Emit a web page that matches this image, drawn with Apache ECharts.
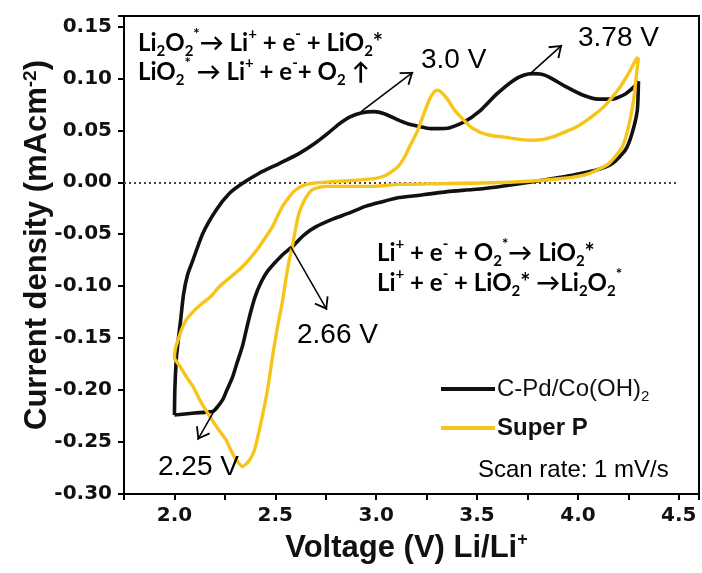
<!DOCTYPE html>
<html>
<head>
<meta charset="utf-8">
<script src="https://cdn.jsdelivr.net/npm/echarts@6/dist/echarts.min.js"></script>
<style>
  html, body { margin: 0; padding: 0; background: #fff; }
  #chart { width: 702px; height: 573px; }
</style>
</head>
<body>
<div id="chart"></div>
<script>
// C-Pd/Co(OH)2 CV loop (V vs Li/Li+, mA cm-2)
const pdVoltage = [2.00, 2.002, 2.01, 2.02, 2.03, 2.045, 2.065, 2.092, 2.141, 2.207, 2.273, 2.338, 2.42, 2.519, 2.617, 2.70, 2.76, 2.815, 2.87, 2.93, 2.99, 3.04, 3.108, 3.16, 3.206, 3.27, 3.353, 3.435, 3.516, 3.598, 3.68, 3.73, 3.778, 3.82, 3.86, 3.94, 4.023, 4.10, 4.17, 4.235, 4.284, 4.30,
  4.294, 4.268, 4.235, 4.17, 4.088, 4.00, 3.92, 3.76, 3.60, 3.48, 3.353, 3.19, 3.108, 3.025, 2.95, 2.86, 2.79, 2.70, 2.64, 2.584, 2.54, 2.50, 2.46, 2.43, 2.40, 2.375, 2.355, 2.338, 2.31, 2.289, 2.26, 2.24, 2.21, 2.19, 2.10, 2.00];
const pdCurrent = [-0.224, -0.20, -0.168, -0.150, -0.134, -0.108, -0.089, -0.0747, -0.049, -0.0266, -0.0106, -0.001, 0.0087, 0.018, 0.0276, 0.038, 0.047, 0.056, 0.063, 0.067, 0.068, 0.066, 0.060, 0.056, 0.054, 0.0516, 0.052, 0.058, 0.069, 0.085, 0.098, 0.103, 0.1045, 0.104, 0.101, 0.092, 0.084, 0.080, 0.080, 0.085, 0.093, 0.097,
  0.069, 0.047, 0.031, 0.018, 0.0115, 0.008, 0.005, 0.000, -0.0045, -0.007, -0.009, -0.013, -0.015, -0.019, -0.023, -0.030, -0.035, -0.043, -0.051, -0.062, -0.069, -0.077, -0.086, -0.096, -0.110, -0.127, -0.143, -0.157, -0.174, -0.187, -0.200, -0.209, -0.217, -0.2205, -0.222, -0.224];

// Super P CV loop
const spVoltage = [4.30, 4.285, 4.276, 4.25, 4.22, 4.153, 4.055, 3.92, 3.68, 3.353, 3.108, 2.99, 2.75, 2.716, 2.685, 2.666, 2.64, 2.617, 2.60, 2.584, 2.568, 2.555, 2.535, 2.51, 2.486, 2.461, 2.428, 2.396, 2.37, 2.338, 2.31, 2.28, 2.256, 2.215, 2.174, 2.13, 2.092, 2.055, 2.027, 2.00,
  2.005, 2.018, 2.035, 2.06, 2.10, 2.141, 2.18, 2.223, 2.28, 2.338, 2.38, 2.42, 2.455, 2.486, 2.51, 2.535, 2.565, 2.60, 2.64, 2.683, 2.78, 2.90, 2.99, 3.04, 3.075, 3.108, 3.14, 3.17, 3.206, 3.24, 3.27, 3.29, 3.304, 3.32, 3.353, 3.39, 3.435, 3.47, 3.516, 3.57, 3.63, 3.70, 3.76, 3.82, 3.876, 3.93, 3.99, 4.04, 4.088, 4.13, 4.17, 4.21, 4.25, 4.29, 4.30];
const spCurrent = [0.120, 0.095, 0.079, 0.053, 0.034, 0.018, 0.0084, 0.0036, 0.0003, -0.0013, -0.002, -0.004, -0.004, -0.005, -0.007, -0.0106, -0.019, -0.030, -0.045, -0.062, -0.076, -0.090, -0.115, -0.140, -0.168, -0.200, -0.232, -0.258, -0.268, -0.2735, -0.268, -0.258, -0.248, -0.237, -0.225, -0.211, -0.1965, -0.186, -0.177, -0.169,
  -0.160, -0.1516, -0.142, -0.132, -0.123, -0.116, -0.110, -0.1004, -0.091, -0.081, -0.072, -0.062, -0.052, -0.0427, -0.033, -0.0235, -0.015, -0.0074, -0.003, -0.001, 0.0005, 0.002, 0.0035, 0.006, 0.010, 0.015, 0.024, 0.036, 0.050, 0.068, 0.082, 0.0875, 0.0885, 0.087, 0.080, 0.069, 0.0596, 0.053, 0.048, 0.045, 0.0436, 0.0415, 0.0404, 0.041, 0.0436, 0.048, 0.053, 0.059, 0.066, 0.073, 0.082, 0.092, 0.1045, 0.119, 0.120];

// annotation arrows: [start, head] in data coords
const peakArrows = [
  [[2.925, 0.068], [3.183, 0.106]],
  [[3.765, 0.1048], [3.921, 0.132]],
  [[2.576, -0.0619], [2.756, -0.1228]],
  [[2.209, -0.2158], [2.115, -0.2478]]
];
const zeroLine = [[1.75, 0], [4.5, 0]];

const zip = (xs, ys) => xs.map((x, i) => [x, ys[i]]);

const chevron = 'path://M0,0 L0.01,0 L0,0.01 Z M0,12 L8,23 L6.6,24.2 L0,15 L-6.6,24.2 L-8,23 Z';

const tickFont = { fontFamily: 'DejaVu Sans', fontWeight: 'bold', fontSize: 20, color: '#111' };
const titleFont = { fontFamily: 'Liberation Sans', fontWeight: 'bold', fontSize: 31, color: '#111' };
const reactFont = 'Lato, DejaVu Sans';
const reactRich = {
  s: { fontSize: 15, fontWeight: 'bold', fontFamily: reactFont, verticalAlign: 'bottom', fill: '#000' },
  p: { fontSize: 15, fontWeight: 'bold', fontFamily: reactFont, verticalAlign: 'top', fill: '#000' }
};

function reaction(x, y, text) {
  return {
    type: 'text', x: x, y: y, z: 100,
    style: {
      text: text, fontFamily: reactFont, fontWeight: 'bold', fontSize: 24, lineHeight: 32,
      fill: '#000', verticalAlign: 'middle', rich: reactRich
    }
  };
}
function peakLabel(x, y, text) {
  return {
    type: 'text', x: x, y: y, z: 100,
    style: { text: text, fontFamily: 'Liberation Sans', fontSize: 28, fill: '#000', verticalAlign: 'middle' }
  };
}

const chart = echarts.init(document.getElementById('chart'));

chart.setOption({
  animation: false,
  grid: { left: 124, right: -1, top: 16, bottom: 79, show: true, borderColor: '#000', borderWidth: 2 },
  xAxis: {
    type: 'value', min: 1.75, max: 4.6, interval: 0.25,
    name: 'Voltage (V) Li/Li{sup|+}', nameLocation: 'middle', nameGap: 36,
    nameTextStyle: Object.assign({}, titleFont, {
      rich: { sup: { fontFamily: 'Liberation Sans', fontWeight: 'bold', fontSize: 18, verticalAlign: 'top', color: '#111' } },
      lineHeight: 36,
      padding: [0, 10, 0, 0]
    }),
    axisLine: { onZero: false, lineStyle: { color: '#000', width: 2 } },
    axisTick: { length: 6, lineStyle: { color: '#000', width: 2 } },
    splitLine: { show: false },
    axisLabel: Object.assign({}, tickFont, {
      margin: 12,
      formatter: v => {
        const r = Math.round(v * 2);
        return Math.abs(v * 2 - r) < 1e-6 ? (r / 2).toFixed(1) : '';
      }
    })
  },
  yAxis: {
    type: 'value', min: -0.30, max: 0.16, interval: 0.05,
    name: 'Current density (mAcm{sup|-2})', nameLocation: 'middle', nameRotate: 90, nameGap: 71,
    nameMoveOverlap: false,
    nameTextStyle: Object.assign({}, titleFont, {
      rich: { sup: { fontFamily: 'Liberation Sans', fontWeight: 'bold', fontSize: 19, verticalAlign: 'top', color: '#111' } },
      lineHeight: 32,
      padding: [0, 0, 0, 20]
    }),
    axisLine: { onZero: false, lineStyle: { color: '#000', width: 2 } },
    axisTick: { length: 6, lineStyle: { color: '#000', width: 2 } },
    splitLine: { show: false },
    axisLabel: Object.assign({}, tickFont, {
      margin: 12,
      formatter: v => {
        const k = Math.round(v / 0.05);
        if (Math.abs(v - k * 0.05) > 1e-6) return '';
        return k === 0 ? '0.00' : (k * 0.05).toFixed(2);
      }
    })
  },
  legend: {
    data: ['C-Pd/Co(OH)2', 'Super P'],
    orient: 'vertical', left: 436, top: 372, itemGap: 12,
    icon: 'rect', itemWidth: 54, itemHeight: 4,
    formatter: name => name === 'Super P' ? '{b|Super P}' : '{n|C-Pd/Co(OH)}{s|2}',
    textStyle: {
      padding: [0, 0, 0, -3],
      rich: {
        n: { fontFamily: 'Liberation Sans', fontSize: 24, color: '#111', lineHeight: 30 },
        s: { fontFamily: 'Liberation Sans', fontSize: 15, color: '#111', verticalAlign: 'bottom', lineHeight: 18 },
        b: { fontFamily: 'Liberation Sans', fontWeight: 'bold', fontSize: 24, color: '#111', lineHeight: 30 }
      }
    }
  },
  series: [
    {
      name: 'C-Pd/Co(OH)2', type: 'line', data: zip(pdVoltage, pdCurrent),
      showSymbol: false, symbol: 'none', smooth: 0.2,
      lineStyle: { color: '#111', width: 3.6 }, itemStyle: { color: '#111' },
      emphasis: { disabled: true },
      markLine: {
        silent: true, animation: false,
        symbol: ['none', chevron], symbolSize: [16, 24],
        label: { show: false },
        lineStyle: { color: '#000', width: 1.5, type: 'solid' },
        emphasis: { disabled: true },
        data: peakArrows.map(a => [{ coord: a[0] }, { coord: a[1] }])
      }
    },
    {
      name: 'Super P', type: 'line', data: zip(spVoltage, spCurrent),
      showSymbol: false, symbol: 'none', smooth: 0.2,
      lineStyle: { color: '#F7C41A', width: 3.4 }, itemStyle: { color: '#F7C41A' },
      emphasis: { disabled: true },
      markLine: {
        silent: true, animation: false, z: 1,
        symbol: ['none', 'none'],
        label: { show: false },
        lineStyle: { color: '#444', width: 2, type: [2, 3] },
        emphasis: { disabled: true },
        data: [[{ coord: zeroLine[0] }, { coord: zeroLine[1] }]]
      }
    }
  ],
  graphic: [
    reaction(138, 43, 'Li{s|2}O{s|2}{p|*}\u2192 Li{p|+} + e{p|-} + LiO{s|2}*'),
    reaction(138, 72, 'LiO{s|2}{p|*} \u2192 Li{p|+} + e{p|-}+ O{s|2} \u2191'),
    reaction(377, 253, 'Li{p|+} + e{p|-} + O{s|2}{p|*}\u2192 LiO{s|2}*'),
    reaction(377, 283, 'Li{p|+} + e{p|-} + LiO{s|2}* \u2192Li{s|2}O{s|2}{p|*}'),
    peakLabel(421, 60, '3.0 V'),
    peakLabel(578, 38, '3.78 V'),
    peakLabel(297, 335, '2.66 V'),
    peakLabel(158, 467, '2.25 V'),
    {
      type: 'text', x: 478, y: 470, z: 100,
      style: { text: 'Scan rate: 1 mV/s', fontFamily: 'Liberation Sans', fontSize: 24, fill: '#000', verticalAlign: 'middle' }
    }
  ]
});
</script>
</body>
</html>
